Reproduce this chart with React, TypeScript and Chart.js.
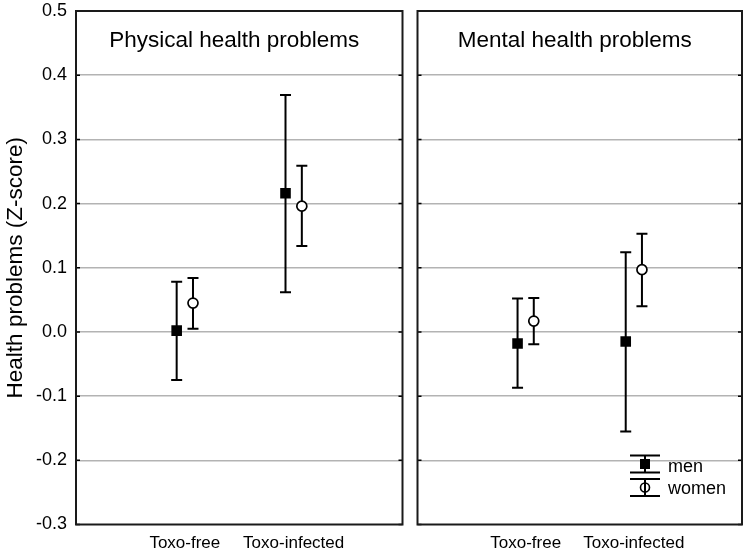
import React, { useEffect, useRef } from "react";
import { Chart, registerables } from "chart.js";

Chart.register(...registerables);

const FONT = "'Liberation Sans', Arial, Helvetica, sans-serif";

// ---- data ----
const categories = ["Toxo-free", "Toxo-infected"];
const panelTitles = ["Physical health problems", "Mental health problems"];
const yAxisTitle = "Health problems (Z-score)";
const seriesNames = ["men", "women"];

const physMen = [0.002, 0.216];
const physMenLow = [-0.075, 0.062];
const physMenHigh = [0.078, 0.369];
const physWomen = [0.045, 0.196];
const physWomenLow = [0.005, 0.134];
const physWomenHigh = [0.084, 0.259];

const mentMen = [-0.018, -0.015];
const mentMenLow = [-0.087, -0.155];
const mentMenHigh = [0.052, 0.124];
const mentWomen = [0.017, 0.097];
const mentWomenLow = [-0.019, 0.040];
const mentWomenHigh = [0.053, 0.153];

const yMin = -0.3;
const yMax = 0.5;
const yStep = 0.1;

const OFFSET = 0.075;

type Panel = {
  title: string;
  men: number[];
  menLow: number[];
  menHigh: number[];
  women: number[];
  womenLow: number[];
  womenHigh: number[];
  left: boolean;
};

function zeroPad(s: any) {
  s.paddingTop = 0;
  s.paddingBottom = 0;
  s.paddingLeft = 0;
  s.paddingRight = 0;
}

function buildConfig(p: Panel): any {
  const menPts = p.men.map((v, i) => ({ x: i + 1 - OFFSET, y: v }));
  const womenPts = p.women.map((v, i) => ({ x: i + 1 + OFFSET, y: v }));
  const bars = [
    { xs: menPts.map((d) => d.x), lo: p.menLow, hi: p.menHigh },
    { xs: womenPts.map((d) => d.x), lo: p.womenLow, hi: p.womenHigh },
  ];

  const panelPlugin = {
    id: "panelPlugin",
    beforeDatasetsDraw(chart: any) {
      const ctx = chart.ctx;
      const xs = chart.scales.x;
      const ys = chart.scales.y;
      ctx.save();
      ctx.strokeStyle = "#000";
      ctx.lineWidth = 2;
      bars.forEach((b) => {
        b.xs.forEach((xv, i) => {
          const px = xs.getPixelForValue(xv);
          const top = ys.getPixelForValue(b.hi[i]);
          const bot = ys.getPixelForValue(b.lo[i]);
          ctx.beginPath();
          ctx.moveTo(px, top);
          ctx.lineTo(px, bot);
          ctx.moveTo(px - 5.5, top);
          ctx.lineTo(px + 5.5, top);
          ctx.moveTo(px - 5.5, bot);
          ctx.lineTo(px + 5.5, bot);
          ctx.stroke();
        });
      });
      ctx.restore();
    },
    afterDraw(chart: any) {
      const ctx = chart.ctx;
      const a = chart.chartArea;
      const ys = chart.scales.y;
      ctx.save();
      // inward tick marks
      ctx.strokeStyle = "#000";
      ctx.lineWidth = 1.5;
      ys.ticks.forEach((t: any) => {
        const py = ys.getPixelForValue(t.value);
        ctx.beginPath();
        ctx.moveTo(a.left, py);
        ctx.lineTo(a.left + 4, py);
        ctx.moveTo(a.right, py);
        ctx.lineTo(a.right - 4, py);
        ctx.stroke();
      });
      // frame
      ctx.strokeStyle = "#1a1a1a";
      ctx.lineWidth = 2;
      ctx.strokeRect(a.left, a.top, a.right - a.left, a.bottom - a.top);
      // panel title
      ctx.fillStyle = "#000";
      ctx.font = `22.5px ${FONT}`;
      ctx.textAlign = "center";
      ctx.textBaseline = "alphabetic";
      ctx.fillText(p.title, (a.left + a.right) / 2 - 5, a.top + 36);
      // legend (right panel only)
      if (!p.left) {
        const cx = a.right - 97;
        const y1 = a.bottom - 60.5;
        const y2 = a.bottom - 37;
        ctx.strokeStyle = "#000";
        ctx.lineWidth = 2;
        // men
        ctx.beginPath();
        ctx.moveTo(cx, y1 - 8.5);
        ctx.lineTo(cx, y1 + 8.5);
        ctx.moveTo(cx - 15, y1 - 8.5);
        ctx.lineTo(cx + 15, y1 - 8.5);
        ctx.moveTo(cx - 15, y1 + 8.5);
        ctx.lineTo(cx + 15, y1 + 8.5);
        ctx.stroke();
        ctx.fillStyle = "#000";
        ctx.fillRect(cx - 5, y1 - 5, 10, 10);
        // women
        ctx.beginPath();
        ctx.moveTo(cx, y2 - 8.5);
        ctx.lineTo(cx, y2 + 8.5);
        ctx.moveTo(cx - 15, y2 - 8.5);
        ctx.lineTo(cx + 15, y2 - 8.5);
        ctx.moveTo(cx - 15, y2 + 8.5);
        ctx.lineTo(cx + 15, y2 + 8.5);
        ctx.stroke();
        ctx.lineWidth = 1.6;
        ctx.beginPath();
        ctx.arc(cx, y2, 4.5, 0, Math.PI * 2);
        ctx.stroke();
        ctx.fillStyle = "#000";
        ctx.font = `18px ${FONT}`;
        ctx.textAlign = "left";
        ctx.fillText(seriesNames[0], cx + 23, y1 + 7.5);
        ctx.fillText(seriesNames[1], cx + 23, y2 + 6.5);
      }
      ctx.restore();
    },
  };

  return {
    type: "scatter",
    data: {
      datasets: [
        {
          label: seriesNames[0],
          data: menPts,
          pointStyle: "rect",
          pointRadius: 7.5,
          pointHoverRadius: 7.5,
          backgroundColor: "#000",
          borderColor: "#000",
          borderWidth: 0,
          showLine: false,
        },
        {
          label: seriesNames[1],
          data: womenPts,
          pointStyle: "circle",
          pointRadius: 5,
          pointHoverRadius: 5,
          backgroundColor: "#fff",
          borderColor: "#000",
          borderWidth: 1.7,
          showLine: false,
        },
      ],
    },
    options: {
      animation: false,
      responsive: false,
      maintainAspectRatio: false,
      events: [],
      layout: {
        padding: p.left
          ? { left: 0, right: 5, top: 11, bottom: 0 }
          : { left: 4, right: 8, top: 11, bottom: 0 },
      },
      plugins: {
        legend: { display: false },
        tooltip: { enabled: false },
        title: { display: false },
      },
      scales: {
        x: {
          type: "linear",
          min: 0,
          max: 3,
          grid: { display: false, drawTicks: false },
          border: { display: false },
          afterBuildTicks: (s: any) => {
            s.ticks = categories.map((_, i) => ({ value: i + 1 }));
          },
          afterFit: (s: any) => {
            s.height = 26.5;
            zeroPad(s);
          },
          ticks: {
            padding: 9,
            color: "#000",
            font: { size: 17, family: FONT },
            maxRotation: 0,
            autoSkip: false,
            callback: (v: any) => categories[Math.round(v) - 1] ?? "",
          },
        },
        y: {
          type: "linear",
          min: yMin,
          max: yMax,
          grid: {
            color: (c: any) =>
              c.tick && (Math.abs(c.tick.value - yMin) < 1e-6 || Math.abs(c.tick.value - yMax) < 1e-6)
                ? "rgba(0,0,0,0)"
                : "#b3b3b3",
            lineWidth: 1.4,
            drawTicks: false,
          },
          border: { display: false },
          afterFit: (s: any) => {
            s.width = p.left ? 76 : 0;
            zeroPad(s);
          },
          title: p.left
            ? {
                display: true,
                text: yAxisTitle,
                color: "#000",
                font: { size: 22.5, family: FONT },
                padding: { top: 2, bottom: 0 },
              }
            : { display: false },
          ticks: {
            display: p.left,
            stepSize: yStep,
            padding: 9,
            color: "#000",
            font: { size: 18, family: FONT },
            callback: (v: any) => Number(v).toFixed(1),
          },
        },
      },
    },
    plugins: [panelPlugin],
  };
}

function PanelChart({ panel, width, height, left }: { panel: Panel; width: number; height: number; left: number }) {
  const ref = useRef<HTMLCanvasElement | null>(null);
  useEffect(() => {
    if (!ref.current) return;
    const chart = new Chart(ref.current, buildConfig(panel));
    return () => chart.destroy();
  }, [panel]);
  return (
    <canvas
      ref={ref}
      width={width}
      height={height}
      style={{ position: "absolute", left, top: 0, width, height }}
    />
  );
}

const physPanel: Panel = {
  title: panelTitles[0],
  men: physMen,
  menLow: physMenLow,
  menHigh: physMenHigh,
  women: physWomen,
  womenLow: physWomenLow,
  womenHigh: physWomenHigh,
  left: true,
};

const mentPanel: Panel = {
  title: panelTitles[1],
  men: mentMen,
  menLow: mentMenLow,
  menHigh: mentMenHigh,
  women: mentWomen,
  womenLow: mentWomenLow,
  womenHigh: mentWomenHigh,
  left: false,
};

export default function App() {
  return (
    <div
      style={{
        position: "absolute",
        left: 0,
        top: 0,
        width: 750,
        height: 551,
        background: "#fff",
        overflow: "hidden",
      }}
    >
      <PanelChart panel={physPanel} width={410} height={551} left={0} />
      <PanelChart panel={mentPanel} width={340} height={551} left={410} />
    </div>
  );
}
